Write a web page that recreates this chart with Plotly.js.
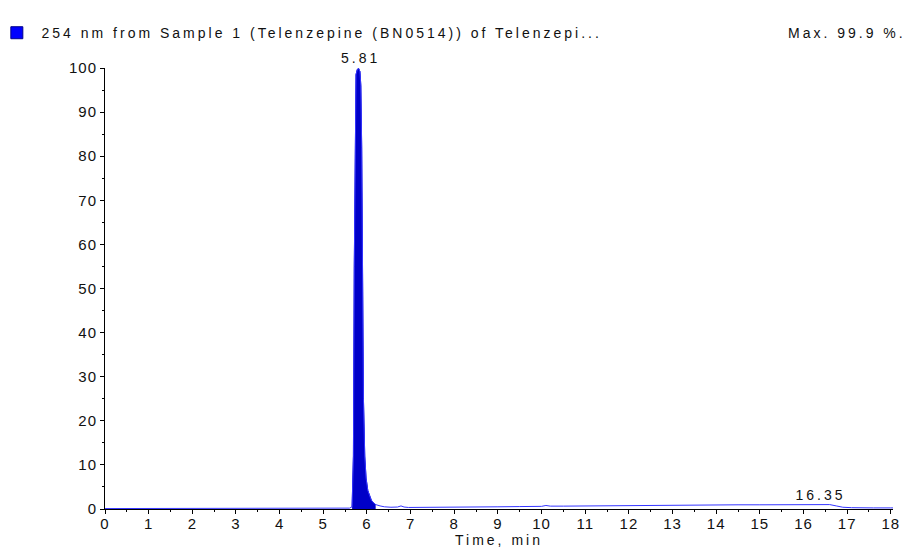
<!DOCTYPE html>
<html>
<head>
<meta charset="utf-8">
<script src="https://cdn.plot.ly/plotly-3.0.1.min.js"></script>
<style>
  html, body { margin: 0; padding: 0; background: #fff; }
  #chart { width: 910px; height: 551px; }
  .main-svg .xtick text, .main-svg .ytick text { letter-spacing: 1px; }
  .main-svg .annotation-text, .main-svg .xtitle { letter-spacing: 3px; }
</style>
</head>
<body>
<div id="chart"></div>
<script>
// Chromatogram trace (time in min, relative intensity in %)
const timeMin = [0, 0.5, 1, 1.5, 2, 2.5, 3, 3.5, 4, 4.5, 5, 5.3, 5.6, 5.66,
  5.69, 5.71, 5.73, 5.75, 5.78, 5.81, 5.84, 5.86, 5.88, 5.9, 5.92, 5.95, 5.98,
  6.02, 6.06, 6.1, 6.15, 6.2, 6.3, 6.4, 6.55, 6.7, 6.78, 6.85, 6.95, 7.2, 7.6,
  8.0, 8.5, 9.0, 9.5, 10.0, 10.1, 10.2, 10.5, 11.0, 11.5, 12.0, 12.5, 13.0,
  13.5, 14.0, 14.5, 15.0, 15.5, 16.0, 16.35, 16.6, 16.75, 16.9, 17.1, 17.3,
  17.6, 18.0, 18.1];
const intensity = [0.1, 0.1, 0.1, 0.12, 0.1, 0.12, 0.1, 0.12, 0.12, 0.15, 0.15, 0.15, 0.2, 0.5,
  12, 55, 88, 98.5, 99.7, 99.9, 99.2, 96, 82, 50, 25, 12, 7,
  4.2, 2.8, 2.0, 1.4, 1.0, 0.7, 0.5, 0.4, 0.45, 0.7, 0.45, 0.35, 0.35, 0.35,
  0.4, 0.45, 0.5, 0.55, 0.6, 0.8, 0.65, 0.65, 0.7, 0.75, 0.85, 0.9, 0.9,
  0.95, 0.95, 0.95, 0.95, 1.0, 1.0, 1.0, 1.0, 0.7, 0.4, 0.3, 0.25,
  0.25, 0.25, 0.25];
// Integrated (filled) peak region
const peakTime = [5.66, 5.69, 5.71, 5.73, 5.75, 5.78, 5.81, 5.84, 5.86, 5.88, 5.9, 5.92, 5.95, 5.98,
  6.02, 6.06, 6.1, 6.15, 6.2];
const peakInt = [0.5, 12, 55, 88, 98.5, 99.7, 99.9, 99.2, 96, 82, 50, 25, 12, 7,
  4.2, 2.8, 2.0, 1.4, 1.0];
// Peak labels
const peakLabelTimes = [5.81, 16.35];
const peakLabelY = [99.9, 1.0];
const peakLabels = ["5.81", "16.35"];
// Threshold marker
const thresholdY = [5];

const titleText = "254 nm from Sample 1 (Telenzepine (BN0514)) of Telenzepi...";
const maxText = "Max. 99.9 %.";
const xTickVals = [0,1,2,3,4,5,6,7,8,9,10,11,12,13,14,15,16,17,18];
const yTickVals = [0,10,20,30,40,50,60,70,80,90,100];

const FONT = "Liberation Sans, Arial, sans-serif";
const SPACING = 3; // letter spacing (px) applied to annotation texts via CSS

const traces = [
  {
    x: peakTime, y: peakInt, type: "scatter", mode: "lines",
    fill: "tozeroy", fillcolor: "#0000c8",
    line: { color: "#0000c8", width: 1 }, hoverinfo: "skip"
  },
  {
    x: timeMin, y: intensity, type: "scatter", mode: "lines",
    line: { color: "#3535ff", width: 1 }, hoverinfo: "skip"
  },
  {
    x: [-0.07], y: thresholdY, type: "scatter", mode: "markers",
    marker: { symbol: "triangle-right", size: 10, color: "#1010d0",
      line: { color: "#000080", width: 0.5 } },
    cliponaxis: false, hoverinfo: "skip"
  }
];

const annotations = peakLabels.map((t, i) => ({
  x: peakLabelTimes[i], y: peakLabelY[i], xref: "x", yref: "y",
  text: t, showarrow: false, yanchor: "bottom", xshift: SPACING / 2,
  font: { family: FONT, size: 14, color: "#111" }
}));
annotations.push({
  xref: "paper", yref: "paper", x: -0.083, y: 1.08, xanchor: "left", yanchor: "middle",
  text: titleText, showarrow: false, xshift: titleText.length * SPACING / 2,
  font: { family: FONT, size: 14, color: "#111" }
});
annotations.push({
  xref: "paper", yref: "paper", x: 1.019, y: 1.08, xanchor: "right", yanchor: "middle",
  text: maxText, showarrow: false, xshift: -maxText.length * SPACING / 2,
  font: { family: FONT, size: 14, color: "#111" }
});

const layout = {
  width: 910, height: 551,
  margin: { l: 105, r: 17, t: 68, b: 42 },
  paper_bgcolor: "#fff", plot_bgcolor: "#fff",
  showlegend: false,
  font: { family: FONT, size: 15, color: "#111" },
  xaxis: {
    range: [0, 18.05], tickvals: xTickVals, ticks: "outside", ticklen: 4,
    tickcolor: "#000", showline: true, linecolor: "#000", linewidth: 1,
    showgrid: false, zeroline: false, ticklabelstandoff: -3,
    minor: { dtick: 0.5, ticks: "outside", ticklen: 2, tickcolor: "#000" },
    title: { text: "Time, min", font: { family: FONT, size: 14, color: "#111" }, standoff: 0 },
    tickfont: { family: FONT, size: 15, color: "#111" }
  },
  yaxis: {
    range: [0, 100], tickvals: yTickVals, ticks: "outside", ticklen: 4,
    tickcolor: "#000", showline: true, linecolor: "#000", linewidth: 1,
    showgrid: false, zeroline: false,
    minor: { dtick: 5, ticks: "outside", ticklen: 2, tickcolor: "#000" },
    tickfont: { family: FONT, size: 15, color: "#111" }
  },
  shapes: [{
    type: "rect", xref: "paper", yref: "paper",
    xsizemode: "pixel", ysizemode: "pixel",
    xanchor: -0.1195, yanchor: 1.08,
    x0: 0, x1: 12, y0: -6, y1: 6,
    fillcolor: "#0000ff", line: { color: "#00008b", width: 1 }
  }],
  annotations: annotations
};

Plotly.newPlot("chart", traces, layout, { staticPlot: true, displayModeBar: false });
</script>
</body>
</html>
